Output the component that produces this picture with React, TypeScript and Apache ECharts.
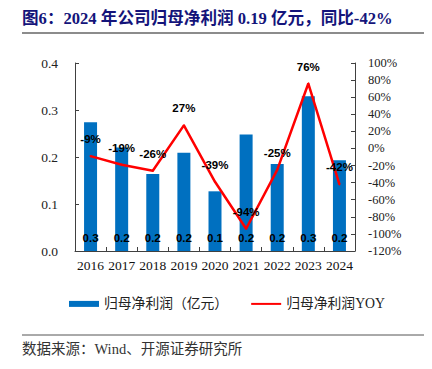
import React, { useEffect, useRef } from "react";
import * as echarts from "echarts";

const years = ["2016", "2017", "2018", "2019", "2020", "2021", "2022", "2023", "2024"];
const profit = [0.274, 0.22, 0.164, 0.209, 0.127, 0.248, 0.185, 0.329, 0.193];
const yoy = [-9, -19, -26, 27, -39, -94, -25, 76, -42];
const leftTicks = { min: 0, max: 0.4, interval: 0.1 };
const rightTicks = { min: -120, max: 100, interval: 20 };

const titleText = "图6：2024 年公司归母净利润 0.19 亿元，同比-42%";
const sourceText = "数据来源：Wind、开源证券研究所";
const barName = "归母净利润（亿元）";
const lineName = "归母净利润YOY";

const SERIF = '"Liberation Serif", "Times New Roman", "Noto Sans CJK SC", serif';
const SANS = '"Liberation Sans", Arial, sans-serif';
const AXIS = "#404040";

export default function App() {
  const ref = useRef<HTMLDivElement>(null);
  useEffect(() => {
    if (!ref.current) return;
    const chart = echarts.init(ref.current, null, { renderer: "svg" });
    chart.setOption({
      animation: false,
      backgroundColor: "#ffffff",
      grid: { left: 75, right: 77, top: 63, bottom: 118, containLabel: false },
      graphic: [
        {
          type: "text",
          left: 22,
          top: 10,
          style: {
            text: titleText,
            fontSize: 16.6,
            fontWeight: "bold",
            fontFamily: SERIF,
            fill: "#14147a",
          },
        },
        { type: "line", shape: { x1: 22, y1: 33, x2: 432, y2: 33 }, style: { stroke: "#8c8c8c", lineWidth: 2 } },
        { type: "line", shape: { x1: 0, y1: 41, x2: 3, y2: 41 }, style: { stroke: "#999", lineWidth: 1 } },
        { type: "line", shape: { x1: 22, y1: 335, x2: 432, y2: 335 }, style: { stroke: "#555", lineWidth: 1 } },
        { type: "line", shape: { x1: 0, y1: 334, x2: 3, y2: 334 }, style: { stroke: "#999", lineWidth: 1 } },
        {
          type: "text",
          left: 22,
          top: 342,
          style: { text: sourceText, fontSize: 14.5, fontFamily: SERIF, fill: "#333" },
        },
      ],
      legend: {
        left: 64,
        top: 292,
        itemGap: 22,
        itemWidth: 30,
        itemHeight: 6,
        textStyle: { fontSize: 13.8, fontFamily: SERIF, color: "#222" },
        data: [
          { name: barName, icon: "rect" },
          { name: lineName, itemStyle: { opacity: 0 } },
        ],
      },
      xAxis: {
        type: "category",
        data: years,
        boundaryGap: true,
        axisLine: { show: true, lineStyle: { color: AXIS, width: 1 } },
        axisTick: { show: true, inside: true, length: 4, lineStyle: { color: AXIS } },
        axisLabel: { fontSize: 13.5, fontFamily: SERIF, color: "#111", margin: 8, interval: 0 },
      },
      yAxis: [
        {
          type: "value",
          ...leftTicks,
          splitLine: { show: false },
          axisLine: { show: true, lineStyle: { color: AXIS } },
          axisTick: { show: true, inside: true, length: 4, lineStyle: { color: AXIS } },
          axisLabel: {
            fontSize: 13.5,
            fontFamily: SERIF,
            color: "#222",
            margin: 17,
            formatter: (v: number) => v.toFixed(1),
          },
        },
        {
          type: "value",
          ...rightTicks,
          splitLine: { show: false },
          axisLine: { show: true, lineStyle: { color: AXIS } },
          axisTick: { show: true, inside: true, length: 4, lineStyle: { color: AXIS } },
          axisLabel: {
            fontSize: 12.5,
            fontFamily: SERIF,
            color: "#222",
            margin: 13,
            formatter: (v: number) => `${v}%`,
          },
        },
      ],
      series: [
        {
          name: barName,
          type: "bar",
          data: profit,
          barWidth: 13,
          yAxisIndex: 0,
          itemStyle: { color: "#0070C0" },
          label: {
            show: true,
            position: "insideBottom",
            distance: 7,
            fontSize: 11.5,
            fontWeight: "bold",
            fontFamily: SANS,
            color: "#000",
            formatter: (p: any) => Number(p.value).toFixed(1),
          },
        },
        {
          name: lineName,
          type: "line",
          data: yoy,
          yAxisIndex: 1,
          symbol: "circle",
          symbolSize: 2,
          lineStyle: { color: "#FF0000", width: 2.5 },
          itemStyle: { color: "#FF0000" },
          label: {
            show: true,
            position: "top",
            distance: 10,
            fontSize: 11.5,
            fontWeight: "bold",
            fontFamily: SANS,
            color: "#000",
            formatter: (p: any) => `${p.value}%`,
          },
          z: 3,
        },
      ],
    });
    return () => chart.dispose();
  }, []);
  return <div ref={ref} style={{ width: 432, height: 369, margin: -8 }} />;
}
